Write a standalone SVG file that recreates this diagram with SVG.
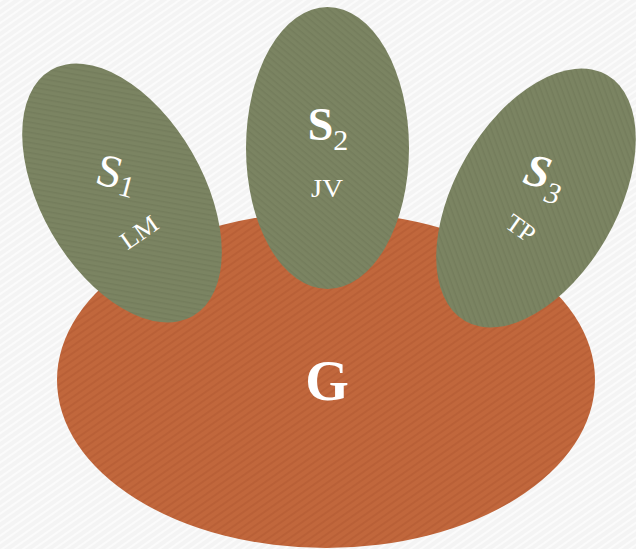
<svg xmlns="http://www.w3.org/2000/svg" width="636" height="549" viewBox="0 0 636 549">
  <style>
    .lbl { font-family: 'Liberation Serif', 'Times New Roman', Times, serif; fill: #ffffff; }
    .big { font-size: 46px; }
    .sub { font-size: 30px; }
    .ini { font-size: 25px; }
  </style>
  <defs>
    <pattern id="bgStripe" width="6" height="6" patternUnits="userSpaceOnUse" patternTransform="rotate(-35)">
      <rect width="6" height="6" fill="#f4f4f4"/>
      <rect width="6" height="2" fill="#fbfbfb"/>
    </pattern>
    <pattern id="greenStripe" width="5" height="5" patternUnits="userSpaceOnUse" patternTransform="rotate(40)">
      <rect width="5" height="5" fill="#7b8462"/>
      <rect width="5" height="1.5" fill="#747d5c"/>
    </pattern>
    <pattern id="orangeStripe" width="6" height="6" patternUnits="userSpaceOnUse" patternTransform="rotate(-35)">
      <rect width="6" height="6" fill="#c1673c"/>
      <rect width="6" height="2" fill="#b96037"/>
    </pattern>
  </defs>
  <rect width="636" height="549" fill="url(#bgStripe)"/>

  <g id="G">
    <ellipse cx="326" cy="380" rx="269" ry="168" fill="url(#orangeStripe)"/>
    <text class="lbl" x="327" y="400" text-anchor="middle" font-size="56" font-weight="bold">G</text>
  </g>

  <g id="S1">
    <ellipse cx="122" cy="193" rx="81" ry="142" transform="rotate(-30 122 193)" fill="url(#greenStripe)"/>
    <text class="lbl big" transform="translate(113,188) rotate(15)" text-anchor="middle">S<tspan class="sub" dy="5">1</tspan></text>
    <text class="lbl ini" transform="translate(144,239) rotate(-35)" text-anchor="middle" textLength="40" lengthAdjust="spacingAndGlyphs">LM</text>
  </g>

  <g id="S2">
    <ellipse cx="327.5" cy="148" rx="81.5" ry="141" fill="url(#greenStripe)"/>
    <text class="lbl big" x="328" y="140" text-anchor="middle" font-weight="bold">S<tspan class="sub" font-weight="normal" dy="10">2</tspan></text>
    <text class="lbl ini" x="327" y="197" text-anchor="middle" textLength="32" lengthAdjust="spacingAndGlyphs">JV</text>
  </g>

  <g id="S3">
    <ellipse cx="536" cy="198" rx="81" ry="142" transform="rotate(30 536 198)" fill="url(#greenStripe)"/>
    <text class="lbl big" transform="translate(541,188) rotate(15)" text-anchor="middle" font-weight="bold" font-style="italic">S<tspan class="sub" font-weight="normal" dy="12">3</tspan></text>
    <text class="lbl ini" transform="translate(516,235) rotate(35)" text-anchor="middle" textLength="30" lengthAdjust="spacingAndGlyphs">TP</text>
  </g>
</svg>
